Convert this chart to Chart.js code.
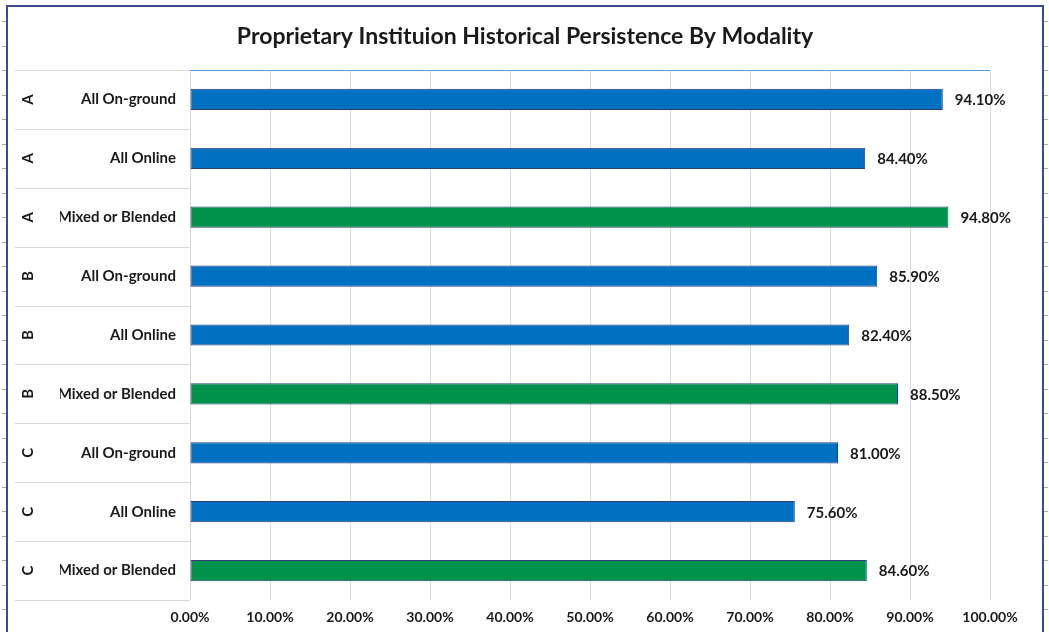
<!DOCTYPE html>
<html>
<head>
<meta charset="utf-8">
<script src="https://cdn.jsdelivr.net/npm/chart.js@4.4.1/dist/chart.umd.min.js"></script>
<style>
  html, body { margin: 0; padding: 0; background: #fff; }
  #wrap { width: 1049px; height: 632px; position: relative; }
</style>
</head>
<body>
<div id="wrap"><canvas id="chart"></canvas></div>
<script>
// ====== data ======
const groups = ["A", "A", "A", "B", "B", "B", "C", "C", "C"];
const modalities = ["All On-ground", "All Online", "Mixed or Blended",
                    "All On-ground", "All Online", "Mixed or Blended",
                    "All On-ground", "All Online", "Mixed or Blended"];
const persistence = [94.1, 84.4, 94.8, 85.9, 82.4, 88.5, 81.0, 75.6, 84.6];
const xTicks = [0, 10, 20, 30, 40, 50, 60, 70, 80, 90, 100];

const BLUE = "#0070c0";
const GREEN = "#00924a";
const FONT = "Lato, 'Open Sans', sans-serif";

const barColors = modalities.map(m => m === "Mixed or Blended" ? GREEN : BLUE);

// frame, label-area separators, group letters and value labels
const decor = {
  id: "decor",
  beforeDatasetsDraw(chart) {
    const ctx = chart.ctx, ca = chart.chartArea, y = chart.scales.y;
    const half = (y.getPixelForValue(1) - y.getPixelForValue(0)) / 2;
    ctx.save();
    // row separators in label area
    ctx.strokeStyle = "#d9d9d9";
    ctx.lineWidth = 1;
    for (let i = 0; i <= modalities.length; i++) {
      const py = Math.round(y.getPixelForValue(i) - half) + 0.5;
      ctx.beginPath();
      ctx.moveTo(15, py);
      ctx.lineTo(ca.left, py);
      ctx.stroke();
    }
    // left edge of plot
    ctx.beginPath();
    ctx.moveTo(ca.left + 0.5, ca.top);
    ctx.lineTo(ca.left + 0.5, ca.bottom);
    ctx.stroke();
    // top edge of plot
    ctx.strokeStyle = "#5b9bd5";
    ctx.beginPath();
    ctx.moveTo(ca.left, ca.top + 0.5);
    ctx.lineTo(ca.right, ca.top + 0.5);
    ctx.stroke();
    // group letters
    ctx.fillStyle = "#1a1a1a";
    ctx.font = "bold 15px " + FONT;
    ctx.textAlign = "center";
    ctx.textBaseline = "middle";
    groups.forEach((g, i) => {
      ctx.save();
      ctx.translate(28, y.getPixelForValue(i));
      ctx.rotate(-Math.PI / 2);
      ctx.fillText(g, 0, 0);
      ctx.restore();
    });
    // outer frame with small ticks
    ctx.strokeStyle = "#3f4a8a";
    ctx.lineWidth = 2;
    ctx.beginPath();
    ctx.moveTo(7, 640);
    ctx.lineTo(7, 6);
    ctx.lineTo(1043, 6);
    ctx.lineTo(1043, 640);
    ctx.stroke();
    ctx.lineWidth = 1;
    ctx.strokeStyle = "#a0a6c8";
    for (let py = 21; py < 632; py += 24.5) {
      ctx.beginPath();
      ctx.moveTo(2, Math.round(py) + 0.5);
      ctx.lineTo(6, Math.round(py) + 0.5);
      ctx.moveTo(1044, Math.round(py) + 0.5);
      ctx.lineTo(1048, Math.round(py) + 0.5);
      ctx.stroke();
    }
    ctx.restore();
  },
  afterDatasetsDraw(chart) {
    const ctx = chart.ctx;
    const meta = chart.getDatasetMeta(0);
    ctx.save();
    ctx.fillStyle = "#1a1a1a";
    ctx.font = "bold 15px " + FONT;
    ctx.textAlign = "left";
    ctx.textBaseline = "middle";
    meta.data.forEach((bar, i) => {
      ctx.fillText(persistence[i].toFixed(2) + "%", bar.x + 12, bar.y + 1);
    });
    ctx.restore();
  }
};

new Chart(document.getElementById("chart"), {
  type: "bar",
  data: {
    labels: modalities,
    datasets: [{
      data: persistence,
      backgroundColor: barColors,
      borderColor: "#2f3e7a",
      borderWidth: 1,
      borderSkipped: false,
      barPercentage: 0.9,
      categoryPercentage: 0.4
    }]
  },
  options: {
    indexAxis: "y",
    responsive: true,
    maintainAspectRatio: false,
    animation: false,
    layout: { padding: { left: 60, right: 59, top: 0, bottom: 0 } },
    plugins: {
      legend: { display: false },
      tooltip: { enabled: false },
      title: {
        display: true,
        text: "Proprietary Instituion Historical Persistence By Modality",
        color: "#1a1a1a",
        font: { family: FONT, size: 23, weight: "bold", lineHeight: 1.2 },
        padding: { top: 23, bottom: 19.4 }
      }
    },
    scales: {
      x: {
        min: 0,
        max: 100,
        afterBuildTicks: s => { s.ticks = xTicks.map(v => ({ value: v })); },
        afterFit: s => { s.height = 32; },
        grid: { color: "#d6dfe8", drawTicks: false },
        border: { display: false },
        ticks: {
          color: "#1a1a1a",
          padding: 9,
          font: { family: FONT, size: 14, weight: "bold" },
          callback: v => v.toFixed(2) + "%"
        }
      },
      y: {
        afterFit: s => { s.width = 130; },
        grid: { display: false, drawTicks: false },
        border: { display: false },
        ticks: {
          color: "#1a1a1a",
          padding: 14,
          font: { family: FONT, size: 15, weight: "bold" }
        }
      }
    }
  },
  plugins: [decor]
});
</script>
</body>
</html>
